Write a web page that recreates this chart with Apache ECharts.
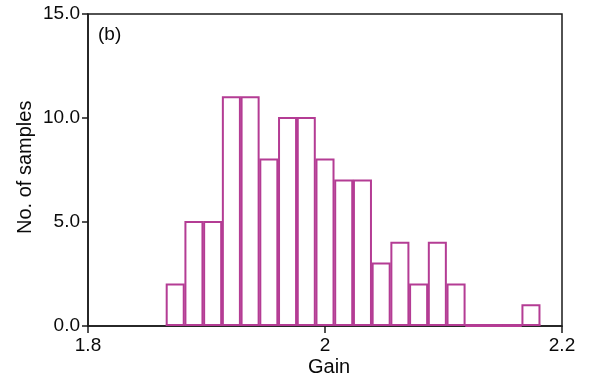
<!DOCTYPE html>
<html>
<head>
<meta charset="utf-8">
<script src="https://cdn.jsdelivr.net/npm/echarts@6/dist/echarts.min.js"></script>
<style>
html,body{margin:0;padding:0;background:#fff;}
#chart{width:592px;height:381px;}
</style>
</head>
<body>
<div id="chart"></div>
<script>
// Histogram bin centres (Gain) and counts
var binCenters = [1.8736, 1.8894, 1.9052, 1.9210, 1.9368, 1.9526, 1.9684, 1.9842, 2.0000, 2.0158,
                  2.0316, 2.0474, 2.0632, 2.0790, 2.0948, 2.1106, 2.1264, 2.1422, 2.1580, 2.1738];
var counts = [2, 5, 5, 11, 11, 8, 10, 10, 8, 7, 7, 3, 4, 2, 4, 2, 0, 0, 0, 1];
var binWidth = 0.0158;
var xTickLabels = {'1.8': '1.8', '2.0': '2', '2.2': '2.2'};
var yTickLabels = {'0': '0.0', '5': '5.0', '10': '10.0', '15': '15.0'};
var panelLabel = '(b)';
var xName = 'Gain';
var yName = 'No. of samples';

var barColor = '#b43c94';
var axisColor = '#1a1a1a';
var textColor = '#0a0a0a';
var font = "'Liberation Sans', Arial, sans-serif";

var data = binCenters.map(function (c, i) { return [c, counts[i]]; });

var chart = echarts.init(document.getElementById('chart'), null, {renderer: 'canvas'});
chart.setOption({
  backgroundColor: '#ffffff',
  animation: false,
  grid: {left: 88, right: 30, top: 14, bottom: 55, show: true, borderColor: axisColor, borderWidth: 1.5, backgroundColor: 'transparent'},
  graphic: [
    {type: 'text', left: 98, top: 25, style: {text: panelLabel, font: '19px ' + font, fill: textColor}},
    {type: 'text', left: 308, top: 357, style: {text: xName, font: '20px ' + font, fill: textColor}},
    {type: 'text', x: 15, y: 234, rotation: Math.PI / 2, style: {text: yName, font: '20px ' + font, fill: textColor}}
  ],
  xAxis: {
    type: 'value', min: 1.8, max: 2.2, interval: 0.2,
    axisLine: {show: true, onZero: false, lineStyle: {color: axisColor, width: 1.5}},
    axisTick: {show: true, inside: false, length: 7, lineStyle: {color: axisColor, width: 1.5}},
    splitLine: {show: false},
    axisLabel: {
      margin: 10, color: textColor, fontSize: 19, fontFamily: font,
      formatter: function (v) { return xTickLabels[v.toFixed(1)] || ''; }
    }
  },
  yAxis: {
    type: 'value', min: 0, max: 15, interval: 5,
    axisLine: {show: true, lineStyle: {color: axisColor, width: 1.5}},
    axisTick: {show: true, inside: false, length: 6, lineStyle: {color: axisColor, width: 1.5}},
    splitLine: {show: false},
    axisLabel: {
      margin: 8, color: textColor, fontSize: 19, fontFamily: font,
      formatter: function (v) { return yTickLabels[String(Math.round(v))] || ''; }
    }
  },
  series: [{
    type: 'custom',
    data: data,
    renderItem: function (params, api) {
      var c = api.value(0), v = api.value(1);
      var barW = binWidth * 0.91;
      var p0 = api.coord([c - barW / 2, 0]);
      var p1 = api.coord([c + barW / 2, v]);
      var b0 = api.coord([c - binWidth / 2, 0]);
      var b1 = api.coord([c + binWidth / 2, 0]);
      return {
        type: 'group',
        children: [
          {type: 'line', shape: {x1: b0[0], y1: b0[1] - 1, x2: b1[0], y2: b1[1] - 1},
           style: {stroke: barColor, lineWidth: 2}},
          {type: 'rect', shape: {x: p0[0], y: p1[1], width: p1[0] - p0[0], height: p0[1] - p1[1] - 1},
           style: {fill: '#ffffff', stroke: barColor, lineWidth: 2}}
        ]
      };
    }
  }]
});
</script>
</body>
</html>
